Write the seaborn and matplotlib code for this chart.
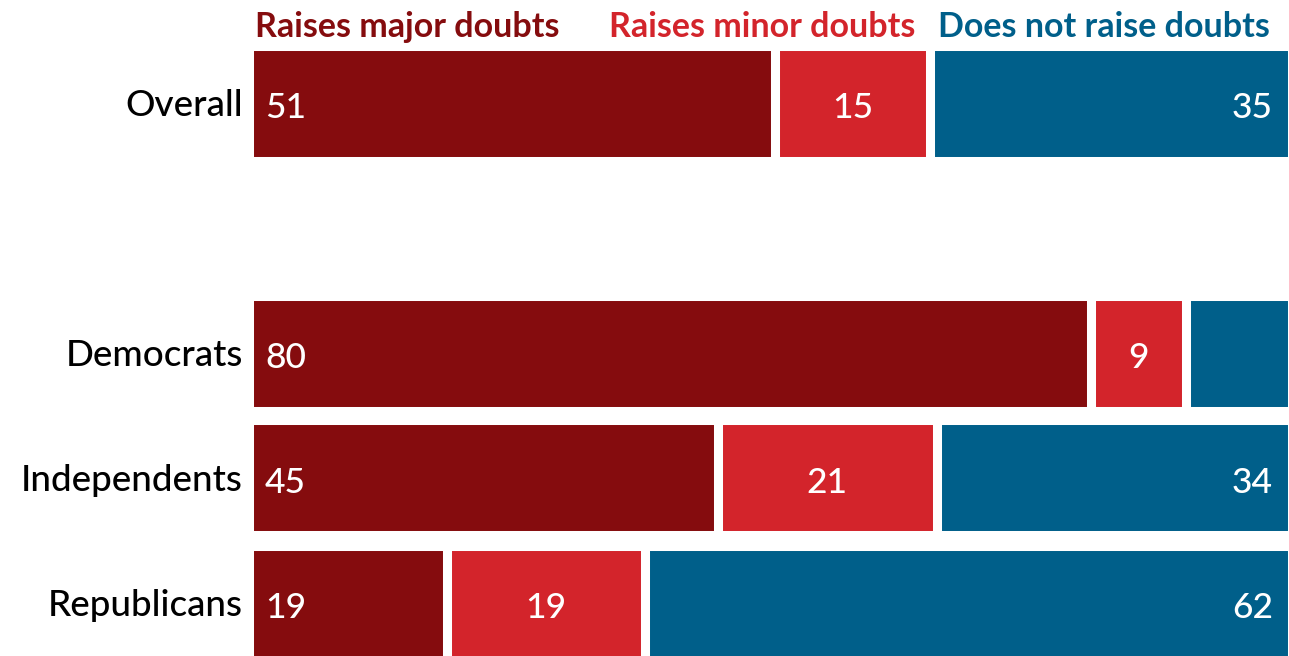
import matplotlib
matplotlib.use("Agg")
import matplotlib.pyplot as plt
import seaborn as sns
import pandas as pd
import numpy as np

# ---- data ----
groups = ["Overall", "Democrats", "Independents", "Republicans"]
major = [51, 80, 45, 19]
minor = [15, 9, 21, 19]
none_ = [35, 10, 34, 62]
major_labels = ["51", "80", "45", "19"]
minor_labels = ["15", "9", "21", "19"]
none_labels = ["35", "", "34", "62"]
series_names = ["Raises major doubts", "Raises minor doubts", "Does not raise doubts"]
order = ["Overall", " ", "Democrats", "Independents", "Republicans"]

c_major = "#850c0e"
c_minor = "#d3242b"
c_none = "#005f8a"

sns.set_theme(style="white")
plt.rcParams["font.family"] = ["Lato", "DejaVu Sans"]

W, H = 1289, 656
fig = plt.figure(figsize=(W / 100, H / 100), dpi=100)
ax_left, ax_right = 248.5, 1291.5
ax_top = 45.5
ax = fig.add_axes([ax_left / W, 0, (ax_right - ax_left) / W, (H - ax_top) / H])

tot = np.array(major) + np.array(minor) + np.array(none_)
p_major = np.array(major) / tot * 100
p_minor = np.array(minor) / tot * 100
p_none = np.array(none_) / tot * 100

df = pd.DataFrame({
    "group": groups,
    "c3": p_major + p_minor + p_none,
    "c2": p_major + p_minor,
    "c1": p_major,
})

common = dict(data=df, y="group", order=order, orient="h", width=0.92,
              edgecolor="white", linewidth=6.5, saturation=1, errorbar=None, ax=ax)
sns.barplot(x="c3", color=c_none, **common)
sns.barplot(x="c2", color=c_minor, **common)
sns.barplot(x="c1", color=c_major, **common)

ax.set_xlim(0, 100)
ax.set_ylim(4.424, -0.46)
ax.set_xlabel("")
ax.set_ylabel("")
ax.set_xticks([])
for s in ax.spines.values():
    s.set_visible(False)
ax.tick_params(axis="y", length=0, pad=4, labelsize=26.5, labelcolor="black")
for t in ax.get_yticklabels():
    t.set_fontweight("medium")
    t.set_verticalalignment("center_baseline")

pos = {g: order.index(g) for g in groups}
fs = 25.5
kw = dict(textcoords="offset pixels", va="center_baseline", color="white",
          fontsize=fs, fontweight="medium")
for i, g in enumerate(groups):
    y = pos[g]
    ax.annotate(major_labels[i], xy=(0, y), xytext=(16.5, -2), ha="left", **kw)
    ax.annotate(minor_labels[i], xy=(p_major[i] + p_minor[i] / 2, y), xytext=(0, -2),
                ha="center", **kw)
    ax.annotate(none_labels[i], xy=(100, y), xytext=(-18.5, -2), ha="right", **kw)

ty = 1 - 24 / H
lfs = 24.5
fig.text(255 / W, ty, series_names[0], color=c_major, ha="left", va="center_baseline",
         fontsize=lfs, fontweight="bold")
fig.text(915 / W, ty, series_names[1], color=c_minor, ha="right", va="center_baseline",
         fontsize=lfs, fontweight="bold")
fig.text(1270 / W, ty, series_names[2], color=c_none, ha="right", va="center_baseline",
         fontsize=lfs, fontweight="bold")

fig.savefig("out.png", dpi=100)
